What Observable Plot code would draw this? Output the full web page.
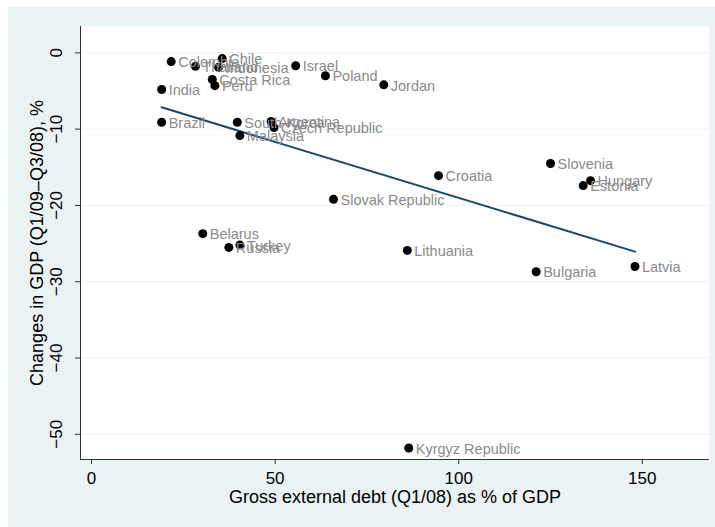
<!DOCTYPE html>
<html>
<head>
<meta charset="utf-8">
<script src="https://cdn.jsdelivr.net/npm/d3@7"></script>
<script src="https://cdn.jsdelivr.net/npm/@observablehq/plot@0.6"></script>
<style>
  html, body { margin: 0; padding: 0; background: #ffffff; }
  #chart { position: absolute; left: 8px; top: 7px; }
  svg { font-family: "Liberation Sans", Arial, sans-serif; }
</style>
</head>
<body>
<div id="chart"></div>
<script>
const countries = ["Colombia","Chile","Thailand","Indonesia","Israel","Poland","Jordan","India","Costa Rica","Peru","Brazil","South Korea","Argentina","Czech Republic","Malaysia","Croatia","Slovenia","Hungary","Estonia","Slovak Republic","Lithuania","Bulgaria","Latvia","Belarus","Russia","Turkey","Kyrgyz Republic"];
const debt      = [21.7, 35.6, 28.3, 34.6, 55.6, 63.7, 79.6, 19.1, 32.9, 33.6, 19.1, 39.7, 48.9, 49.7, 40.4, 94.5, 125.0, 135.9, 133.9, 65.9, 86.0, 121.1, 148.0, 30.3, 37.4, 40.4, 86.4];
const gdpChange = [-1.15, -0.76, -1.77, -1.9, -1.7, -3.0, -4.2, -4.8, -3.5, -4.3, -9.1, -9.1, -9.0, -9.8, -10.85, -16.1, -14.5, -16.75, -17.4, -19.2, -25.9, -28.7, -28.0, -23.7, -25.5, -25.2, -51.8];
const xTicks = [0, 50, 100, 150];
const yTicks = [0, -10, -20, -30, -40, -50];

const data = countries.map((c, i) => ({country: c, debt: debt[i], gdp: gdpChange[i]}));

const chart = Plot.plot({
  width: 707,
  height: 520,
  marginLeft: 72,
  marginTop: 19,
  marginRight: 6,
  marginBottom: 68,
  style: {background: "#eaf2f3", fontFamily: "Liberation Sans, Arial, sans-serif", overflow: "visible"},
  x: {domain: [-3, 168.3], ticks: xTicks},
  y: {domain: [-53.3, 3.45], ticks: yTicks},
  marks: [
    Plot.frame({fill: "white", stroke: null}),
    Plot.gridY(yTicks, {stroke: "#eaf2f3", strokeOpacity: 1, strokeWidth: 1}),
    Plot.axisX({ticks: xTicks, tickSize: 5, tickPadding: 7, fontSize: 17, fill: "black", stroke: "#333", label: null}),
    Plot.axisY({ticks: yTicks, tickSize: 5, tickPadding: 14, tickRotate: -90, fontSize: 17, fill: "black", stroke: "#333", label: null}),
    Plot.ruleY([-53.3], {stroke: "#333", strokeWidth: 1}),
    Plot.ruleX([-3], {stroke: "#333", strokeWidth: 1}),
    Plot.linearRegressionY(data, {x: "debt", y: "gdp", ci: 0, stroke: "#1a476f", strokeWidth: 2}),
    Plot.dot(data, {x: "debt", y: "gdp", r: 4.5, fill: "black", stroke: null}),
    Plot.text(data, {x: "debt", y: "gdp", text: "country", textAnchor: "start", dx: 7, dy: 1, fontSize: 14.5, fill: "#8a8a8a"}),
    Plot.text(["Gross external debt (Q1/08) as % of GDP"], {frameAnchor: "bottom", dy: 43, fontSize: 18, fill: "black"}),
    Plot.text(["Changes in GDP (Q1/09\u2013Q3/08), %"], {frameAnchor: "left", textAnchor: "middle", dx: -43, rotate: -90, fontSize: 18, fill: "black"})
  ]
});
document.getElementById("chart").appendChild(chart);
</script>
</body>
</html>
